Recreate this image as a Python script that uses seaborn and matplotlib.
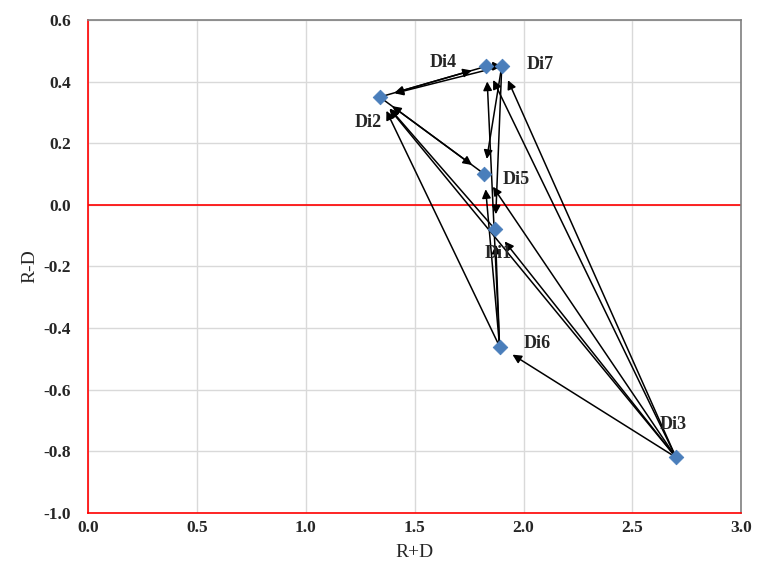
import pandas as pd
import numpy as np
import matplotlib.pyplot as plt
import seaborn as sns

# data
names = ["Di1", "Di2", "Di3", "Di4", "Di5", "Di6", "Di7"]
r_plus_d = [1.87, 1.34, 2.70, 1.83, 1.82, 1.89, 1.90]
r_minus_d = [-0.08, 0.35, -0.82, 0.45, 0.10, -0.46, 0.45]

# influence arrows (source -> target)
edge_src = ["Di2", "Di4", "Di7", "Di4", "Di7", "Di2", "Di5", "Di6", "Di6", "Di6",
            "Di6", "Di7", "Di3", "Di3", "Di3", "Di3", "Di3", "Di3", "Di1"]
edge_dst = ["Di4", "Di2", "Di2", "Di7", "Di5", "Di5", "Di2", "Di2", "Di4", "Di5",
            "Di1", "Di1", "Di6", "Di1", "Di5", "Di7", "Di4", "Di2", "Di2"]

x_ticks = ["0.0", "0.5", "1.0", "1.5", "2.0", "2.5", "3.0"]
y_ticks = ["-1.0", "-0.8", "-0.6", "-0.4", "-0.2", "0.0", "0.2", "0.4", "0.6"]

df = pd.DataFrame({"name": names, "x": r_plus_d, "y": r_minus_d})
pos = {n: (x, y) for n, x, y in zip(names, r_plus_d, r_minus_d)}

label_offset = {"Di1": (2, -17), "Di2": (-8, -18), "Di3": (-2, 24), "Di4": (-31, 3),
                "Di5": (23, -4), "Di6": (27, 2), "Di7": (28, 1)}

sns.set_style("white")
serif = ["Liberation Serif", "DejaVu Serif"]

fig = plt.figure(figsize=(7.58, 5.73), dpi=100)
ax = fig.add_axes([0.116, 0.105, 0.862, 0.860])

ax.grid(True, color="#d9d9d9", linewidth=1)
ax.axhline(0, color="red", linewidth=1.2, zorder=2)

for s, d in zip(edge_src, edge_dst):
    ax.annotate("", xy=pos[d], xytext=pos[s],
                arrowprops=dict(arrowstyle="-|>", color="black", lw=1.1,
                                mutation_scale=13, shrinkA=3, shrinkB=11),
                zorder=3)

sns.scatterplot(data=df, x="x", y="y", marker="D", s=55, color="#4a7ebb",
                edgecolor="#4a7ebb", ax=ax, zorder=4)

for n, x, y in zip(names, r_plus_d, r_minus_d):
    dx, dy = label_offset[n]
    ax.annotate(n, (x, y), xytext=(dx, dy), textcoords="offset points",
                ha="center", va="center", fontsize=13, fontweight="bold",
                family=serif, zorder=5)

ax.set_xlim(0, 3.0)
ax.set_ylim(-1.0, 0.6)
ax.set_xticks([float(t) for t in x_ticks])
ax.set_yticks([float(t) for t in y_ticks])
ax.set_xticklabels(x_ticks)
ax.set_yticklabels(y_ticks)
for lab in ax.get_xticklabels() + ax.get_yticklabels():
    lab.set_family(serif)
    lab.set_fontweight("bold")
    lab.set_fontsize(12.5)
ax.tick_params(axis="y", length=0, pad=12)
ax.tick_params(axis="x", length=0, pad=5)

ax.set_xlabel("R+D", family=serif, fontsize=14, labelpad=6)
ax.set_ylabel("R-D", family=serif, fontsize=14, labelpad=4)

ax.spines["left"].set_color("red")
ax.spines["bottom"].set_color("red")
ax.spines["top"].set_color("#7f7f7f")
ax.spines["right"].set_color("#7f7f7f")
for sp in ax.spines.values():
    sp.set_linewidth(1.2)

fig.savefig("out.png", dpi=100)
